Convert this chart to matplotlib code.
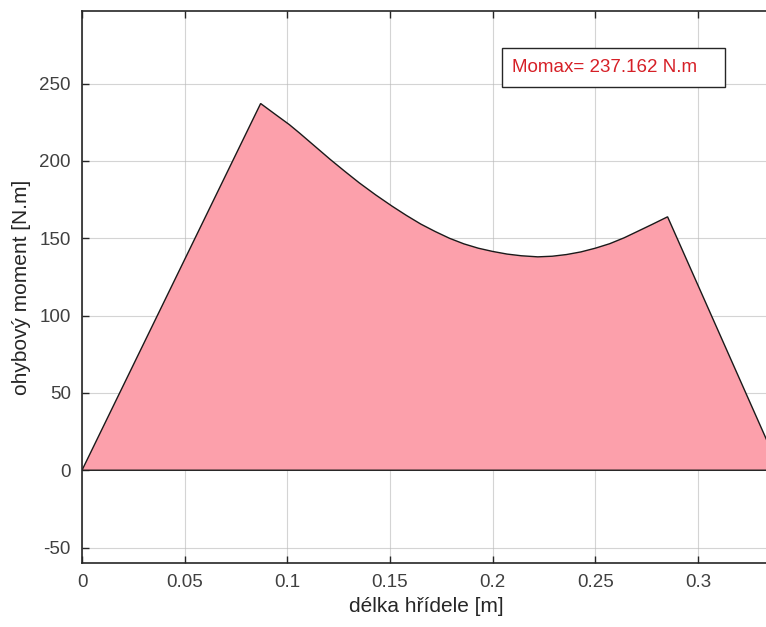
import numpy as np
import matplotlib
matplotlib.use("Agg")
import matplotlib.pyplot as plt
from matplotlib.patches import Rectangle

# bending moment along the shaft
x_m = [0, 0.087, 0.094, 0.101, 0.106, 0.111, 0.116, 0.121, 0.128, 0.135,
       0.143, 0.151, 0.158, 0.165, 0.172, 0.179, 0.186, 0.193, 0.200, 0.207,
       0.214, 0.222, 0.229, 0.236, 0.243, 0.250, 0.257, 0.264, 0.270, 0.278,
       0.2852, 0.340]
moment = [0, 237.162, 230.3, 223.5, 218.0, 212.3, 206.6, 200.9, 193.3, 185.9,
          178.1, 170.8, 164.8, 159.2, 154.4, 150.0, 146.4, 143.6, 141.5, 139.8,
          138.7, 138.0, 138.4, 139.5, 141.2, 143.6, 146.5, 150.3, 154.1, 159.2,
          163.9, 0]
momax = 237.162

x_ticks = [0, 0.05, 0.1, 0.15, 0.2, 0.25, 0.3]
x_ticklabels = ["0", "0.05", "0.1", "0.15", "0.2", "0.25", "0.3"]
y_ticks = [-50, 0, 50, 100, 150, 200, 250]

plt.rcParams['font.family'] = ['Liberation Sans', 'DejaVu Sans']
plt.rcParams['axes.unicode_minus'] = False

W, H = 766, 627
fig = plt.figure(figsize=(W / 100, H / 100), dpi=100)
ax = fig.add_axes([82 / W, 64 / H, 1.005 - 82 / W, 552 / H])

ax.fill(x_m, moment, facecolor='#FCA0AB', edgecolor='#1a1a1a', linewidth=1.0, zorder=2)

ax.set_xlim(0, 0.335)
ax.set_ylim(-60, 297)
ax.set_xticks(x_ticks)
ax.set_xticklabels(x_ticklabels)
ax.set_yticks(y_ticks)

ax.grid(True, color='#b8b8b8', linewidth=0.8, alpha=0.6, zorder=0)
ax.set_axisbelow(True)

ax.tick_params(direction='in', length=5, width=1, colors='#262626',
               labelsize=13.5, top=True, right=False, labelcolor='#404040', pad=8)
for side in ['left', 'bottom', 'top']:
    ax.spines[side].set_color('#262626')
    ax.spines[side].set_linewidth(1.2)
ax.spines['right'].set_visible(False)

ax.set_xlabel('délka hřídele [m]', fontsize=15, color='#262626', labelpad=4)
ax.set_ylabel('ohybový moment [N.m]', fontsize=15, color='#262626', labelpad=6)

# annotation box (pixel positions)
box = Rectangle((502 / W, 1 - 87 / H), 223 / W, 39 / H, transform=fig.transFigure,
                facecolor='white', edgecolor='#262626', linewidth=1.0, zorder=5)
fig.patches.append(box)
fig.text(512 / W, 1 - 68 / H, f"Momax= {momax:.3f} N.m", color='#d62027',
         fontsize=13.5, va='center', ha='left', zorder=6)

fig.savefig('out.png', dpi=100)
